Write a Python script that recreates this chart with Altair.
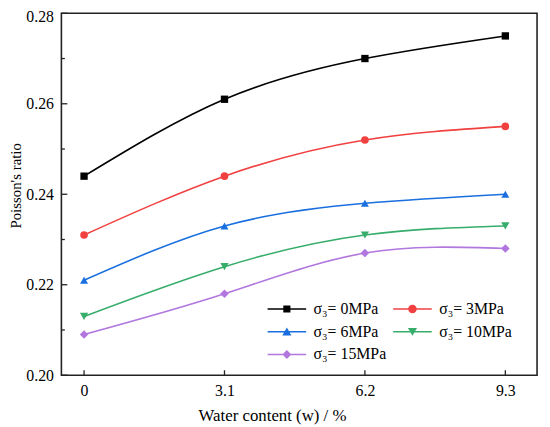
import altair as alt
import pandas as pd

water = [0, 3.1, 6.2, 9.3]
series = ["σ₃= 0MPa", "σ₃= 3MPa", "σ₃= 6MPa", "σ₃= 10MPa", "σ₃= 15MPa"]
values = {
    "σ₃= 0MPa": [0.244, 0.261, 0.270, 0.275],
    "σ₃= 3MPa": [0.231, 0.244, 0.252, 0.255],
    "σ₃= 6MPa": [0.221, 0.233, 0.238, 0.240],
    "σ₃= 10MPa": [0.213, 0.224, 0.231, 0.233],
    "σ₃= 15MPa": [0.209, 0.218, 0.227, 0.228],
}
colors = ["#000000", "#F14040", "#1A6FDF", "#37AD6B", "#B177DE"]
shapes = ["square", "circle", "triangle-up", "triangle-down", "diamond"]
sizes = [55, 75, 85, 85, 85]
y_major = [0.20, 0.22, 0.24, 0.26, 0.28]
y_minor = [0.21, 0.23, 0.25, 0.27]
x_ticks = [0, 3.1, 6.2, 9.3]

rows = []
for s in series:
    for w, v in zip(water, values[s]):
        rows.append({"series": s, "w": w, "nu": v})
df = pd.DataFrame(rows)

FONT = "Liberation Serif"
W, H = 481, 366

# legend symbols: line segment + marker (custom paths, unit = 10px)
line = "M-1.95,-0.075L1.95,-0.075L1.95,0.075L-1.95,0.075Z"
leg_shapes = [
    line + "M-0.36,-0.36L0.36,-0.36L0.36,0.36L-0.36,0.36Z",
    line + "M0.43,0A0.43,0.43 0 1,1 -0.43,0A0.43,0.43 0 1,1 0.43,0Z",
    line + "M0,-0.42L0.46,0.38L-0.46,0.38Z",
    line + "M0,0.42L-0.46,-0.38L0.46,-0.38Z",
    line + "M0,-0.46L0.46,0L0,0.46L-0.46,0Z",
]

xscale = alt.Scale(domain=[-0.5, 10.0], nice=False, zero=False)
yscale = alt.Scale(domain=[0.20, 0.28], nice=False, zero=False)

xenc = alt.X("w:Q", scale=xscale,
             axis=alt.Axis(values=x_ticks, title="Water content (w) / %",
                           domain=False, ticks=False, grid=False,
                           labelPadding=8, titlePadding=9, titleX=213, titleFontSize=17,
                           labelFlush=False, labelExpr="datum.value == 0 ? '0' : format(datum.value, '.1f')"))
yenc = alt.Y("nu:Q", scale=yscale,
             axis=alt.Axis(values=y_major, title="Poisson's ratio", format=".2f",
                           domain=False, ticks=False, grid=False,
                           labelPadding=8, titlePadding=2, titleFontSize=15, titleY=174,
                           labelOffset={"condition": {"test": "datum.value > 0.279", "value": 3}, "value": 0},
                           labelFlush=False))

cscale = alt.Scale(domain=series, range=colors)

lines = alt.Chart(df).mark_line(interpolate="natural", strokeWidth=1.6).encode(
    x=xenc, y=yenc,
    color=alt.Color("series:N", scale=cscale, legend=None),
    detail="series:N",
)

points = alt.Chart(df).mark_point(filled=True, opacity=1).encode(
    x="w:Q", y="nu:Q",
    color=alt.Color("series:N", scale=cscale, legend=None),
    shape=alt.Shape("series:N", scale=alt.Scale(domain=series, range=shapes), legend=None),
    size=alt.Size("series:N", scale=alt.Scale(domain=series, range=sizes), legend=None),
)

legend_layer = alt.Chart(df).transform_filter("datum.w < -100").mark_point(
    filled=True, size=400, opacity=1).encode(
    x="w:Q", y="nu:Q",
    color=alt.Color("series:N", scale=alt.Scale(domain=series, range=colors),
                    legend=alt.Legend(title=None, orient="none", legendX=218, legendY=289,
                                      columns=2, direction="horizontal",
                                      columnPadding=6, rowPadding=5,
                                      labelFont=FONT, labelFontSize=16, labelColor="#000",
                                      labelOffset=17, symbolSize=400, symbolOpacity=1,
                                      symbolStrokeWidth=0, padding=0)),
    shape=alt.Shape("series:N", scale=alt.Scale(domain=series, range=leg_shapes)),
)

ymaj = alt.Chart(pd.DataFrame({"v": y_major})).mark_rule(color="#222", strokeWidth=1.3).encode(
    y=alt.Y("v:Q", scale=yscale), x=alt.value(0), x2=alt.value(6))
ymin = alt.Chart(pd.DataFrame({"v": y_minor})).mark_rule(color="#222", strokeWidth=1.3).encode(
    y=alt.Y("v:Q", scale=yscale), x=alt.value(0), x2=alt.value(3.5))
xmaj = alt.Chart(pd.DataFrame({"v": x_ticks})).mark_rule(color="#222", strokeWidth=1.3).encode(
    x=alt.X("v:Q", scale=xscale), y=alt.value(H), y2=alt.value(H - 5))

chart = alt.layer(ymaj, ymin, xmaj, lines, points, legend_layer).resolve_scale(
    color="independent", shape="independent"
).properties(
    width=W, height=H,
    autosize=alt.AutoSizeParams(type="none"),
    padding={"left": 54, "top": 3, "right": 5, "bottom": 50},
).configure_view(
    stroke="#222", strokeWidth=1.6
).configure_axis(
    labelFont=FONT, labelFontSize=16, labelColor="#000",
    titleFont=FONT, titleFontSize=16, titleColor="#000", titleFontWeight="normal",
)

chart.save("out.html", embed_options={"renderer": "svg", "actions": False})
